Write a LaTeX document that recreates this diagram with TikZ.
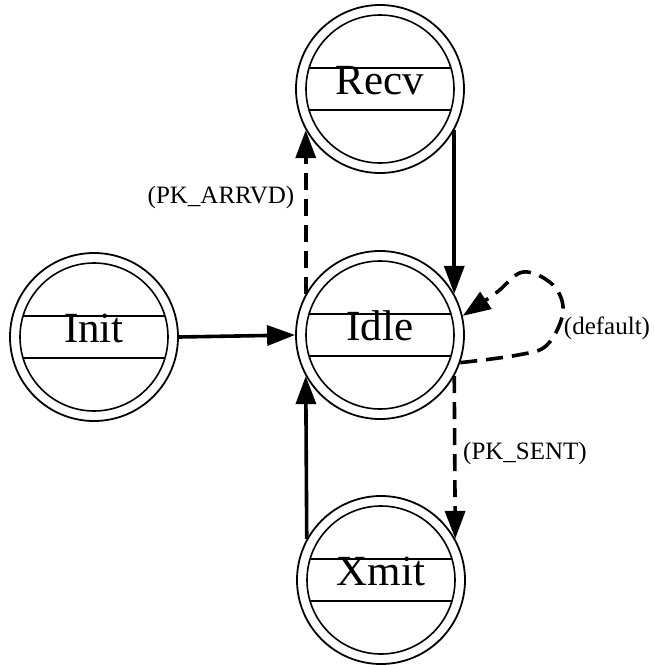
\documentclass[tikz,border=0pt]{standalone}
\usepackage{fontspec}
\setmainfont{Liberation Serif}
\usetikzlibrary{arrows.meta}

\tikzset{
  state/.style={
    circle, draw, line width=1.8pt, minimum size=168pt, inner sep=0pt,
    font=\fontsize{43}{43}\selectfont, text height=28pt, text depth=18pt,
    path picture={
      \draw[line width=1.6pt] (path picture bounding box.center) circle[radius=74pt];
      \draw[line width=1.6pt] ([shift={(-71,-21)}]path picture bounding box.center) -- ++(142,0);
      \draw[line width=1.6pt] ([shift={(-71,21)}]path picture bounding box.center) -- ++(142,0);
    }
  },
  trans/.style={line width=3.6pt, -{Triangle[length=28pt,width=20pt]}},
  cond/.style={trans, dash pattern=on 17pt off 9pt},
  guard/.style={font=\fontsize{25}{25}\selectfont, anchor=base}
}

\begin{document}
\begin{tikzpicture}[x=1pt, y=-1pt]
  \useasboundingbox (0,0) rectangle (654,665);

  % states
  \node[state] (recv) at (380,89)  {Recv};
  \node[state] (idle) at (380,335) {Idle};
  \node[state] (init) at (94,337)  {Init};
  \node[state] (xmit) at (381,580) {Xmit};

  % unconditional transitions
  \draw[trans] (init.east) -- (idle.west);
  \draw[trans] (recv.-29) -- (idle.29);
  \draw[trans] (xmit.151) -- (idle.-151);

  % conditional transitions
  \draw[cond] (idle.151) -- (recv.-151);
  \draw[cond] (idle.-29) -- (xmit.29);
  \draw[cond] plot[smooth, tension=0.6] coordinates
    {(idle.-19) (518,355) (547,345) (563,312) (553,285) (523,272) (496,293) (idle.13)};

  % guard labels
  \node[guard] (arrvd) at (221,203) {(PK\_ARRVD)};
  \node[guard] (sent)  at (525,459) {(PK\_SENT)};
  \node[guard] (dflt)  at (607,334) {(default)};
\end{tikzpicture}
\end{document}
